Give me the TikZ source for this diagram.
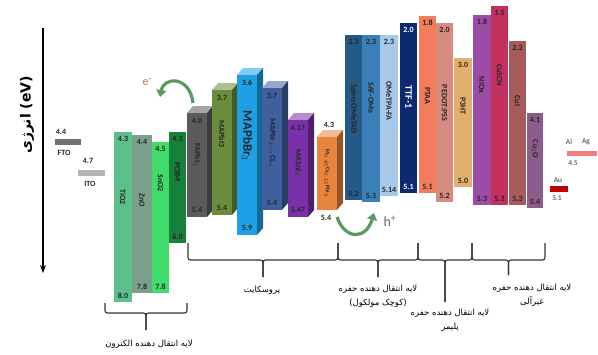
\documentclass[tikz,border=0pt]{standalone}
\usepackage{fontspec}
\setmainfont{Carlito}
\newfontfamily\fafont[Script=Arabic]{DejaVu Sans}
\TeXXeTstate=1
\usetikzlibrary{arrows.meta}

\definecolor{cFTO}{HTML}{707070}
\definecolor{cITO}{HTML}{B4B4B4}
\definecolor{cTiO}{HTML}{5CC08C}
\definecolor{cZnO}{HTML}{7AA08C}
\definecolor{cSnO}{HTML}{40DC6A}
\definecolor{cPCBM}{HTML}{17803A}
\definecolor{cFAPbI}{HTML}{5B5B5B}
\definecolor{cMAPbI}{HTML}{6A8C3C}
\definecolor{cMAPbBr}{HTML}{1EA0E6}
\definecolor{cMAPbCl}{HTML}{3F5F9F}
\definecolor{cMASnI}{HTML}{7A30A8}
\definecolor{cFACs}{HTML}{E8843C}
\definecolor{cSpiro}{HTML}{245A85}
\definecolor{cSAF}{HTML}{3A7FB8}
\definecolor{cOMeTPA}{HTML}{A8C8EA}
\definecolor{cTTF}{HTML}{0C2A70}
\definecolor{cPTAA}{HTML}{F47C5C}
\definecolor{cPEDOT}{HTML}{D68A80}
\definecolor{cPTHT}{HTML}{E2B06C}
\definecolor{cNiO}{HTML}{9C4CA6}
\definecolor{cCuSCN}{HTML}{C4305E}
\definecolor{cCuI}{HTML}{A65A5A}
\definecolor{cCuO}{HTML}{8C5C8C}
\definecolor{cAu}{HTML}{C00000}
\definecolor{cAlAg}{HTML}{F08080}
\definecolor{arrowgreen}{HTML}{5A9A62}
\definecolor{eorange}{HTML}{C87A40}

\tikzset{
  num/.style={font=\bfseries\fontsize{8}{9}\selectfont, text=black!85, inner sep=0pt},
  contact/.style={font=\fontsize{7.5}{8}\selectfont, text=black!80, inner sep=0pt},
  fatext/.style={font=\fafont\fontsize{8.5}{14}\selectfont, align=center, inner sep=0pt},
  bracket/.style={line width=1.1pt, black!80, rounded corners=2.5pt},
}

\begin{document}
\begin{tikzpicture}[x=1pt,y=-1pt]
    \useasboundingbox (0,0) rectangle (598,354);
    % energy axis
    \draw[line width=1.6pt, -{Stealth[length=8pt,width=6pt]}] (43,28) -- (43,273);
    \node[rotate=90, font=\fafont\bfseries\fontsize{14}{15}\selectfont] at (27,115) {\beginR انرژی\endR{} (eV)};
    % FTO and ITO
    \fill[cFTO] (55,139) rectangle (81,145);
    \node[num] at (61,132) {4.4};
    \node[num] at (64,153) {FTO};
    \fill[cITO] (78,170) rectangle (105,176);
    \node[num] at (88,161) {4.7};
    \node[num] at (90,184) {ITO};
    % flat bars
    \foreach \xl/\xr/\yt/\yb/\col/\lab/\tv/\bv/\ly/\fs/\tc in {
        114/132/132/302/cTiO/TiO2/4.3/8.0/197/8/black!85,
        132/152/135/293/cZnO/ZnO/4.4/7.8/200/8/black!85,
        152/169/142/293/cSnO/SnO2/4.5/7.8/183/8/black!85,
        169/186/132/243/cPCBM/PCBM/4.3/6.0/172/8/black!85,
        345/362/35/200/cSpiro/Spiro-OMeTAD/2.3/5.2/109/8/black!85,
        362/380/35/202/cSAF/SAF-OMe/2.3/5.3/98/8/black!85,
        380/398/35/196/cOMeTPA/OMeTPA-FA/2.3/5.14/101/8/black!85,
        400/417/23/193/cTTF/TTF-1/2.0/5.1/97/10/white,
        419/436/16/193/cPTAA/PTAA/1.8/5.1/96/8/black!85,
        436/453/23/202/cPEDOT/PEDOT:PSS/2.0/5.2/103/8/black!85,
        454/472/58/187/cPTHT/P3HT/3.0/5.0/106/8/black!85,
        473/491/15/205/cNiO/NiOx/1.8/5.3/85/8/black!85,
        491/508/6/205/cCuSCN/CuSCN/1.5/5.3/75/8/black!85,
        509/526/41/205/cCuI/CuI/2.2/5.3/101/8/black!85,
        527/543/113/208/cCuO/{Cu$_2$O}/4.1/5.4/149/8/black!85}
    {
        \fill[\col] (\xl,\yt) rectangle (\xr,\yb);
        \node[num, text=\tc] at ({(\xl+\xr)/2},\yt+7) {\tv};
        \node[num, text=\tc] at ({(\xl+\xr)/2},\yb-6) {\bv};
        \node[num, text=\tc, rotate=-90, font=\bfseries\fontsize{\fs}{\fs}\selectfont] at ({(\xl+\xr)/2},\ly) {\lab};
    }
    % perovskite boxes
    \foreach \xl/\xr/\yt/\yb/\col/\lab/\tv/\bv/\ly/\fs in {
        187/207/113/217/cFAPbI/{FAPbI$_3$}/4.0/5.4/155/8,
        212/232/90/215/cMAPbI/MAPbI3/3.7/5.4/134/8,
        237/257/75/235/cMAPbBr/{MAPbBr$_3$}/3.6/5.9/136/13,
        262/282/88/210/cMAPbCl/{MAPbI$_{3-x}$CL$_x$}/3.7/5.4/143/8,
        288/308/120/217/cMASnI/{MASnI$_3$}/4.17/5.47/163/8}
    {
        \fill[\col!55!white] (\xl,\yt) -- ++(6,-7) -- (\xr+6,\yt-7) -- (\xr,\yt) -- cycle;
        \fill[\col!65!black] (\xr,\yt) -- (\xr+6,\yt-7) -- (\xr+6,\yb-7) -- (\xr,\yb) -- cycle;
        \fill[\col] (\xl,\yt) rectangle (\xr,\yb);
        \node[num] at ({(\xl+\xr)/2},\yt+8) {\tv};
        \node[num] at ({(\xl+\xr)/2},\yb-7) {\bv};
        \node[num, rotate=-90, font=\bfseries\fontsize{\fs}{\fs}\selectfont] at ({(\xl+\xr)/2},\ly) {\lab};
    }
    \fill[cFACs!55!white] (317,137) -- ++(6,-7) -- (343,130) -- (337,137) -- cycle;
    \fill[cFACs!65!black] (337,137) -- (343,130) -- (343,203) -- (337,210) -- cycle;
    \fill[cFACs] (317,137) rectangle (337,210);
    \node[num] at (329,125) {4.3};
    \node[num] at (326,218) {5.4};
    \node[num, rotate=-90, font=\bfseries\fontsize{5.5}{6}\selectfont] at (327,173) {FA$_{0.85}$Cs$_{0.15}$PbI$_3$};
    % metal contacts
    \fill[cAu] (550,186) rectangle (568,192);
    \node[contact] at (558,180) {Au};
    \node[contact] at (557,198) {5.1};
    \fill[cAlAg] (567,151) rectangle (597,156);
    \node[contact] at (569,142) {Al};
    \node[contact] at (586,142) {Ag};
    \node[contact] at (573,163) {4.5};
    % charge transfer arrows
    \coordinate (eS) at (193,103);
    \coordinate (eE) at (160,97);
    \draw[arrowgreen, line width=3.2pt, -{Triangle[length=7pt,width=10pt]}] (eS) .. controls (190,76) and (164,76) .. (eE);
    \node[text=eorange, font=\fontsize{12}{13}\selectfont] at (147,82) {e\textsuperscript{\textcolor{black!70}{-}}};
    \coordinate (hS) at (337,217);
    \coordinate (hE) at (374,213);
    \draw[arrowgreen, line width=3.2pt, -{Triangle[length=7pt,width=10pt]}] (hS) .. controls (345,240) and (366,240) .. (hE);
    \node[text=black!60, font=\fontsize{14}{15}\selectfont] at (390,221) {h\textsuperscript{+}};
    % braces
    \foreach \xa/\xb/\ye/\yl/\yt in {105/187/303/313/330, 188/338/243/260/277, 338/418/243/260/277,
        418/472/243/260/302, 472/545/243/260/275}
    {
        \draw[bracket] (\xa,\ye) -- (\xa,\yl) -- ({(\xa+\xb)/2},\yl) -- ({(\xa+\xb)/2},\yt);
        \draw[bracket] (\xb,\ye) -- (\xb,\yl) -- ({(\xa+\xb)/2},\yl) -- ({(\xa+\xb)/2},\yt);
    }
    \node[fatext] at (149,344) {\beginR لایه انتقال دهنده الکترون\endR};
    \node[fatext] at (262,290) {\beginR پروسکایت\endR};
    \node[fatext] at (378,296) {\beginR لایه انتقال دهنده حفره\endR\\\beginR (کوچک مولکول)\endR};
    \node[fatext] at (450,320) {\beginR لایه انتقال دهنده حفره\endR\\\beginR پلیمر\endR};
    \node[fatext] at (532,295) {\beginR لایه انتقال دهنده حفره\endR\\\beginR غیرآلی\endR};
\end{tikzpicture}
\end{document}
